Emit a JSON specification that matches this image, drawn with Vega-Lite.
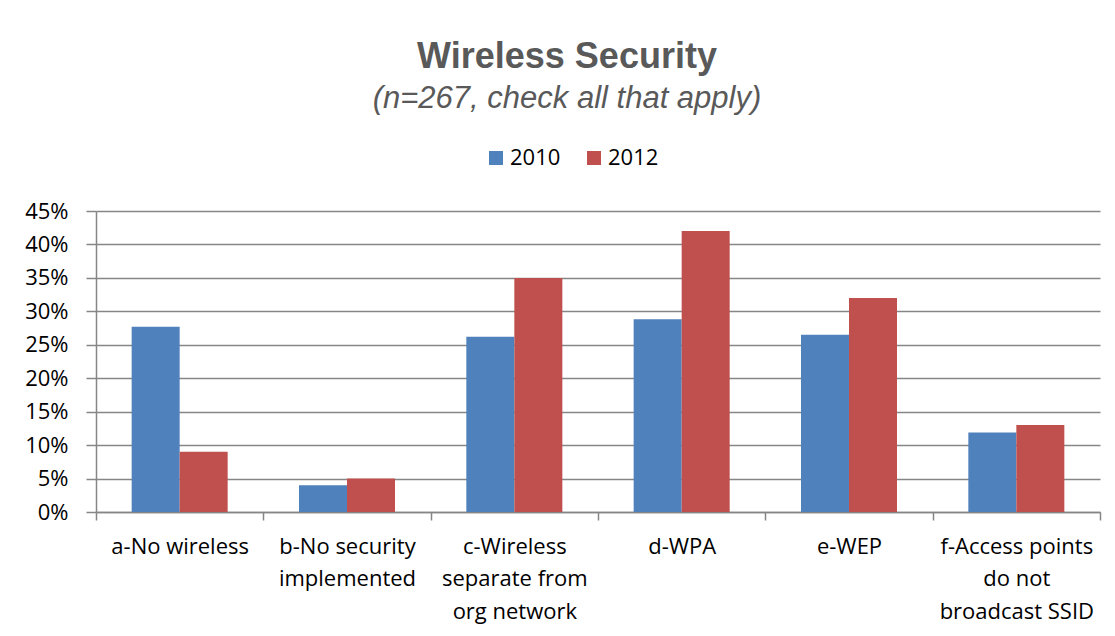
{
  "$schema": "https://vega.github.io/schema/vega-lite/v6.json",
  "autosize": "none",
  "width": 1004,
  "height": 301,
  "padding": {"left": 96, "top": 211, "right": 15, "bottom": 124},
  "background": "white",
  "title": {
    "text": "Wireless Security",
    "subtitle": "(n=267, check all that apply)",
    "anchor": "middle",
    "frame": "group",
    "dx": -31,
    "offset": 32,
    "font": "Liberation Sans",
    "fontSize": 36,
    "fontWeight": "bold",
    "color": "#595959",
    "subtitleFont": "Liberation Sans",
    "subtitleFontSize": 31,
    "subtitleFontStyle": "italic",
    "subtitleColor": "#595959",
    "subtitlePadding": 8
  },
  "data": {
    "values": [
      {"category": "a-No wireless", "year": "2010", "pct": 0.277},
      {"category": "a-No wireless", "year": "2012", "pct": 0.09},
      {"category": "b-No security implemented", "year": "2010", "pct": 0.04},
      {"category": "b-No security implemented", "year": "2012", "pct": 0.05},
      {"category": "c-Wireless separate from org network", "year": "2010", "pct": 0.262},
      {"category": "c-Wireless separate from org network", "year": "2012", "pct": 0.35},
      {"category": "d-WPA", "year": "2010", "pct": 0.288},
      {"category": "d-WPA", "year": "2012", "pct": 0.42},
      {"category": "e-WEP", "year": "2010", "pct": 0.265},
      {"category": "e-WEP", "year": "2012", "pct": 0.32},
      {"category": "f-Access points do not broadcast SSID", "year": "2010", "pct": 0.119},
      {"category": "f-Access points do not broadcast SSID", "year": "2012", "pct": 0.13}
    ]
  },
  "mark": {"type": "bar"},
  "encoding": {
    "x": {
      "field": "category",
      "type": "nominal",
      "title": null,
      "scale": {"paddingInner": 0, "paddingOuter": 0},
      "axis": {
        "labelAngle": 0,
        "labelFont": "Open Sans",
        "labelFontSize": 22,
        "labelColor": "#000000",
        "labelLineHeight": 32.5,
        "labelPadding": 16,
        "labelBaseline": "top",
        "labelLimit": 200,
        "tickBand": "extent",
        "tickSize": 8,
        "tickColor": "#868686",
        "tickWidth": 1.5,
        "domainColor": "#868686",
        "domainWidth": 1.5,
        "labelExpr": "datum.value == 'b-No security implemented' ? ['b-No security', 'implemented'] : datum.value == 'c-Wireless separate from org network' ? ['c-Wireless', 'separate from', 'org network'] : datum.value == 'f-Access points do not broadcast SSID' ? ['f-Access points', 'do not', 'broadcast SSID'] : datum.value"
      }
    },
    "xOffset": {"field": "year", "type": "nominal", "scale": {"paddingInner": 0, "paddingOuter": 0.743}},
    "y": {
      "field": "pct",
      "type": "quantitative",
      "title": null,
      "scale": {"domain": [0, 0.45], "nice": false},
      "axis": {
        "values": [0, 0.05, 0.1, 0.15, 0.2, 0.25, 0.3, 0.35, 0.4, 0.45],
        "format": ".0%",
        "labelFont": "Open Sans",
        "labelFontSize": 22,
        "labelColor": "#000000",
        "labelPadding": 18,
        "tickSize": 10,
        "tickColor": "#868686",
        "tickWidth": 1.5,
        "domain": true,
        "domainColor": "#868686",
        "domainWidth": 1.5,
        "grid": true,
        "gridColor": "#868686",
        "gridWidth": 1.5
      }
    },
    "color": {
      "field": "year",
      "type": "nominal",
      "scale": {"domain": ["2010", "2012"], "range": ["#4F81BD", "#C0504D"]},
      "legend": {
        "title": null,
        "orient": "none",
        "direction": "horizontal",
        "legendX": 389,
        "legendY": -64,
        "symbolType": "square",
        "symbolSize": 196,
        "symbolStrokeWidth": 0,
        "symbolOpacity": 1,
        "labelFont": "Open Sans",
        "labelFontSize": 22,
        "labelColor": "#000000",
        "labelOffset": 3,
        "columnPadding": 22
      }
    }
  },
  "config": {
    "view": {"stroke": null},
    "axis": {"gridCap": "butt"}
  }
}
